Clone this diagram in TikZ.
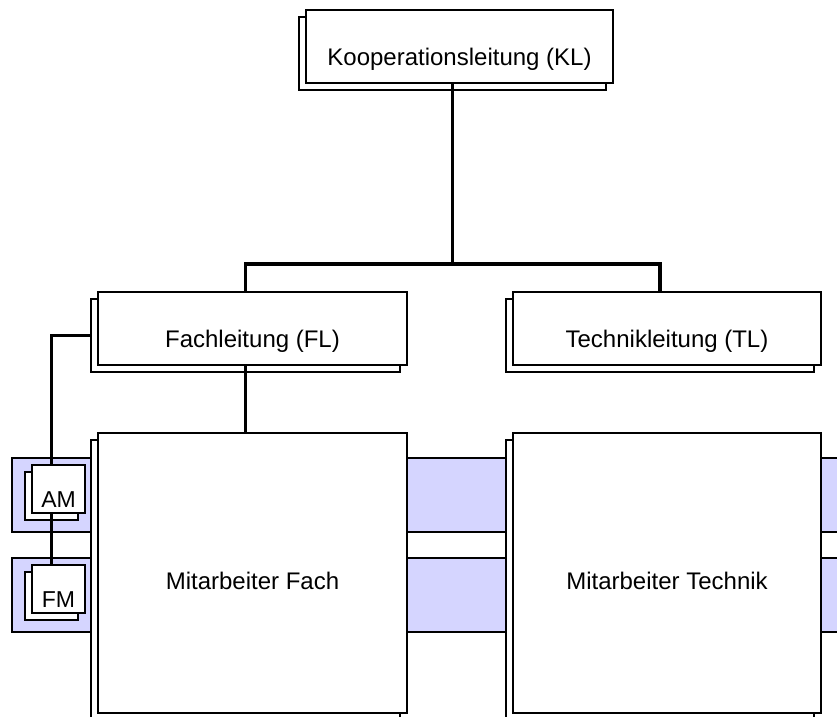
\documentclass[tikz,border=0pt]{standalone}
\usepackage{fontspec}
\setmainfont{Liberation Sans}
\usetikzlibrary{positioning}
\usetikzlibrary{shadows}
\definecolor{bandblue}{RGB}{213,213,255}

\begin{document}
\begin{tikzpicture}[x=1pt, y=-1pt,
    orgbox/.style={draw, fill=white, line width=1.8pt, inner sep=0pt,
      text height=37pt, text depth=0pt, font=\fontsize{24}{28}\selectfont,
      copy shadow={shadow xshift=-7pt, shadow yshift=-7pt}},
    smallbox/.style={orgbox, text height=36pt, font=\fontsize{23}{27}\selectfont,
      minimum width=53pt, minimum height=48pt},
    conn/.style={line width=3.4pt},
    band/.style={draw, fill=bandblue, line width=1.4pt}]

    \useasboundingbox (0,0) rectangle (837,716);

    % Bands
    \draw[band] (12,458) rectangle (850,532);
    \draw[band] (12,558) rectangle (850,632);

    % Leitung
    \node[orgbox, minimum width=307pt, minimum height=73pt] (kl) at (459.5,46.5) {Kooperationsleitung (KL)};
    \node[orgbox, minimum width=309pt, minimum height=73pt] (fl) at (252.5,328.5) {Fachleitung (FL)};
    \node[orgbox, minimum width=308pt, minimum height=73pt] (tl) at (667,328.5) {Technikleitung (TL)};

    % Mitarbeiter
    \node[orgbox, text height=32pt, minimum width=309pt, minimum height=280pt] (mf) at (252.5,573) {Mitarbeiter Fach};
    \node[orgbox, text height=32pt, minimum width=308pt, minimum height=280pt] (mt) at (667,573) {Mitarbeiter Technik};
    \node[smallbox] (am) at (58.5,489) {AM};
    \node[smallbox] (fm) at (58.5,589) {FM};

    % Connectors
    \draw[conn] ([xshift=-7pt]kl.south) -- ++(0,180) coordinate (split);
    \draw[conn] ([xshift=-7pt]fl.north) |- (split) -| ([xshift=-7pt]tl.north);
    \draw[conn] ([xshift=-7pt]fl.south) -- ([xshift=-7pt]mf.north);
    \draw[conn] ([xshift=-7pt, yshift=-7pt]fl.west) -| ([xshift=-7pt]am.north);
    \draw[conn] ([xshift=-7pt]am.south) -- ([xshift=-7pt]fm.north);

\end{tikzpicture}
\end{document}
